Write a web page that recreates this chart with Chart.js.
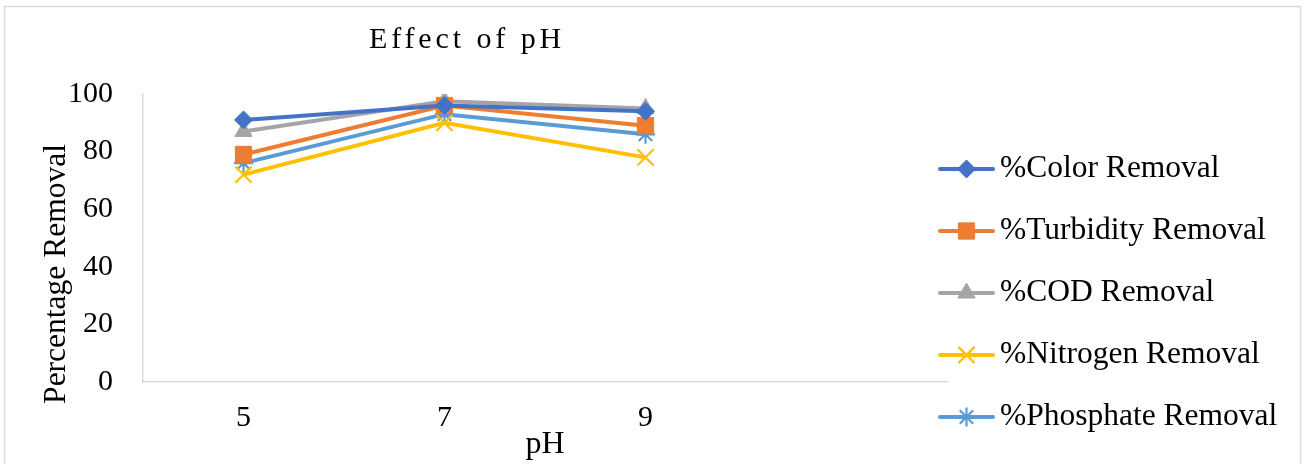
<!DOCTYPE html>
<html>
<head>
<meta charset="utf-8">
<script src="https://cdn.jsdelivr.net/npm/chart.js@4.4.1/dist/chart.umd.min.js"></script>
<style>
  html, body { margin: 0; padding: 0; background: #ffffff; }
  #wrap { width: 1307px; height: 464px; position: relative; }
</style>
</head>
<body>
<div id="wrap"><canvas id="chart" width="1307" height="464"></canvas></div>
<script>
// pH levels on the category axis (the trailing blank slot leaves room on the right)
const phLevels = ['5', '7', '9', ''];

// Removal efficiencies (%) at each pH
const colorRemoval     = [91, 96, 94];
const turbidityRemoval = [79, 96, 89];
const codRemoval       = [87, 97.5, 95];
const nitrogenRemoval  = [72, 90, 78];
const phosphateRemoval = [76, 93, 86];

const seriesNames = ['%Color Removal', '%Turbidity Removal', '%COD Removal', '%Nitrogen Removal', '%Phosphate Removal'];
const yTicks = [0, 20, 40, 60, 80, 100];

const chartTitle = 'Effect of pH';
const yTitle = 'Percentage Removal';
const xTitle = 'pH';

const SERIF = '"Liberation Serif", "Times New Roman", serif';

const styles = [
  { color: '#4472C4', pointStyle: 'rectRot',  radius: 9,  borderWidth: 1 },
  { color: '#ED7D31', pointStyle: 'rect',     radius: 11.5, borderWidth: 1 },
  { color: '#A5A5A5', pointStyle: 'triangle', radius: 10, borderWidth: 1 },
  { color: '#FFC000', pointStyle: 'crossRot', radius: 11.5, borderWidth: 2.2 },
  { color: '#5B9BD5', pointStyle: 'star',     radius: 9.5,  borderWidth: 2.2 }
];

const seriesValues = [colorRemoval, turbidityRemoval, codRemoval, nitrogenRemoval, phosphateRemoval];

const datasets = seriesValues.map((vals, i) => ({
  label: seriesNames[i],
  data: vals,
  borderColor: styles[i].color,
  backgroundColor: styles[i].color,
  pointBackgroundColor: styles[i].color,
  pointBorderColor: styles[i].color,
  pointStyle: styles[i].pointStyle,
  pointRadius: styles[i].radius,
  pointBorderWidth: styles[i].borderWidth,
  borderWidth: 4,
  tension: 0,
  fill: false
}));

// Frame, chart title, rotated y-axis title and the line+marker legend
const decor = {
  id: 'decor',
  beforeDraw(chart) {
    const ctx = chart.ctx;
    ctx.save();
    ctx.fillStyle = '#ffffff';
    ctx.fillRect(0, 0, chart.width, chart.height);
    ctx.strokeStyle = '#d9d9d9';
    ctx.lineWidth = 1.5;
    ctx.beginPath();
    ctx.moveTo(4.5, chart.height);
    ctx.lineTo(4.5, 6.5);
    ctx.lineTo(chart.width - 6.5, 6.5);
    ctx.lineTo(chart.width - 6.5, chart.height);
    ctx.stroke();
    ctx.restore();
  },
  afterDraw(chart) {
    const ctx = chart.ctx;
    const area = chart.chartArea;
    ctx.save();
    ctx.fillStyle = '#000000';

    // chart title
    ctx.font = '30px ' + SERIF;
    ctx.textAlign = 'center';
    ctx.textBaseline = 'middle';
    if ('letterSpacing' in ctx) ctx.letterSpacing = '3.9px';
    ctx.fillText(chartTitle, area.left + 324, 40);
    if ('letterSpacing' in ctx) ctx.letterSpacing = '0px';

    // y-axis title
    ctx.save();
    ctx.translate(57, 274);
    ctx.rotate(-Math.PI / 2);
    ctx.font = '31.5px ' + SERIF;
    ctx.textAlign = 'center';
    ctx.textBaseline = 'middle';
    ctx.fillText(yTitle, 0, 0);
    ctx.restore();

    // legend
    const x0 = area.right - 7;
    const x1 = area.right + 46;
    const mid = (x0 + x1) / 2;
    chart.data.datasets.forEach((ds, i) => {
      const y = 169 + i * 62;
      ctx.strokeStyle = ds.borderColor;
      ctx.fillStyle = ds.borderColor;
      ctx.lineWidth = 4;
      ctx.lineCap = 'round';
      ctx.beginPath();
      ctx.moveTo(x0, y);
      ctx.lineTo(x1, y);
      ctx.stroke();
      ctx.lineCap = 'butt';
      ctx.lineWidth = ds.pointBorderWidth;
      Chart.helpers.drawPoint(ctx, {
        pointStyle: ds.pointStyle,
        radius: ds.pointRadius,
        borderWidth: ds.pointBorderWidth,
        rotation: 0
      }, mid, y);
      ctx.fillStyle = '#000000';
      ctx.font = '31.5px ' + SERIF;
      ctx.textAlign = 'left';
      ctx.textBaseline = 'middle';
      ctx.fillText(ds.label, x1 + 7, y);
    });
    ctx.restore();
  }
};

new Chart(document.getElementById('chart'), {
  type: 'line',
  data: { labels: phLevels, datasets },
  plugins: [decor],
  options: {
    responsive: false,
    animation: false,
    layout: { padding: { left: 0, right: 360, top: 94, bottom: 0 } },
    plugins: {
      legend: { display: false },
      title: { display: false },
      tooltip: { enabled: false }
    },
    scales: {
      x: {
        offset: true,
        grid: { display: false, drawTicks: false },
        border: { display: true, color: '#d9d9d9', width: 1.5 },
        ticks: { color: '#000000', font: { family: SERIF, size: 30 }, padding: 18, maxRotation: 0, autoSkip: false },
        title: { display: true, text: xTitle, color: '#000000', font: { family: SERIF, size: 32 }, padding: { top: 0, bottom: 0 } },
        afterFit(scale) { scale.height = 82; }
      },
      y: {
        min: 0,
        max: 100,
        afterBuildTicks(scale) { scale.ticks = yTicks.map(v => ({ value: v })); },
        grid: { display: false, drawTicks: false },
        border: { display: true, color: '#d9d9d9', width: 1.5 },
        ticks: { color: '#000000', font: { family: SERIF, size: 30 }, padding: 30 },
        afterFit(scale) { scale.width = 143; }
      }
    }
  }
});
</script>
</body>
</html>
